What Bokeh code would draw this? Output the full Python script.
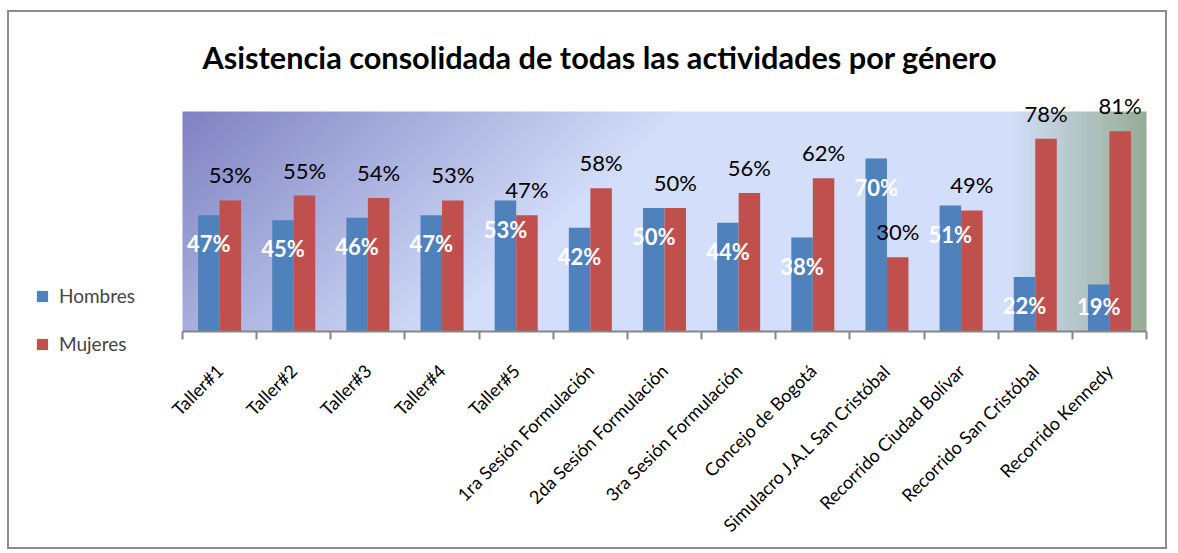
import numpy as np
from bokeh.plotting import figure
from bokeh.models import ColumnDataSource, LabelSet, Label, Legend, LegendItem, FixedTicker, Range1d
from bokeh.core.properties import value
from bokeh.embed import file_html
from bokeh.resources import INLINE

# ---- data ----
categories = ["Taller#1", "Taller#2", "Taller#3", "Taller#4", "Taller#5",
              "1ra Sesión Formulación", "2da Sesión Formulación", "3ra Sesión Formulación",
              "Concejo de Bogotá", "Simulacro J.A.L San Cristóbal", "Recorrido Ciudad Bolívar",
              "Recorrido San Cristóbal", "Recorrido Kennedy"]
hombres = [0.47, 0.45, 0.46, 0.47, 0.53, 0.42, 0.50, 0.44, 0.38, 0.70, 0.51, 0.22, 0.19]
mujeres = [0.53, 0.55, 0.54, 0.53, 0.47, 0.58, 0.50, 0.56, 0.62, 0.30, 0.49, 0.78, 0.81]
series_names = ["Hombres", "Mujeres"]
title_text = "Asistencia consolidada de todas las actividades por género"

BLUE = "#4F81BD"
RED = "#C0504D"
GREY = "#868686"
Y_MAX = 0.89
BAR_W = 0.29

# ---- layout (pixels inside the figure) ----
FIG_W, FIG_H = 1160, 539
AREA_L, AREA_R = 173, 1137      # plot-area left/right
AREA_T, AREA_B = 99, 319        # plot-area top/bottom
n = len(categories)
sx = (AREA_R - AREA_L) / n
sy = (AREA_B - AREA_T) / Y_MAX
x_range = Range1d(-AREA_L / sx, (FIG_W - AREA_L) / sx)
y_range = Range1d(-(FIG_H - AREA_B) / sy, AREA_B / sy)

idx = np.arange(n) + 0.5
h = np.array(hombres)
m = np.array(mujeres)

src = ColumnDataSource(dict(
    xh=idx - BAR_W / 2, xm=idx + BAR_W / 2, h=h, m=m,
    hy=np.maximum(h - 0.15, 0.068),
    hl=[f"{round(v * 100)}%" for v in h],
    ml=[f"{round(v * 100)}%" for v in m],
))

p = figure(width=FIG_W, height=FIG_H, output_backend="svg", toolbar_location=None,
           x_range=x_range, y_range=y_range, y_axis_location=None,
           min_border_left=0, min_border_right=0, min_border_top=0, min_border_bottom=0)
p.styles = {"border": "2px solid #8c8c8c", "margin": "10px 0 0 7px"}
p.xgrid.visible = False
p.ygrid.visible = False
p.outline_line_color = None
p.background_fill_color = "white"
p.border_fill_color = "white"

# ---- gradient plot-area background ----
W, H = 482, 111
u = (np.arange(W) + 0.5) / W
v = (np.arange(H) + 0.5) / H
U, V = np.meshgrid(u, v)
light = np.array([211, 222, 250], dtype=float)
purple = np.array([128, 130, 194], dtype=float)
green = np.array([150, 173, 148], dtype=float)
d = U + (1 - V) * 0.25
wp = np.clip(1 - d / 0.52, 0, 1)[..., None]
wg = np.clip((U - 0.86) / 0.14, 0, 1)[..., None]
col = light * (1 - wp) + purple * wp
col = col * (1 - wg) + green * wg
img = np.empty((H, W), dtype=np.uint32)
view = img.view(dtype=np.uint8).reshape((H, W, 4))
view[..., 0] = col[..., 0].astype(np.uint8)
view[..., 1] = col[..., 1].astype(np.uint8)
view[..., 2] = col[..., 2].astype(np.uint8)
view[..., 3] = 255
p.image_rgba(image=[img], x=0, y=0, dw=n, dh=Y_MAX)

# ---- bars ----
rh = p.vbar(x="xh", top="h", width=BAR_W, source=src, fill_color=BLUE, line_color=None)
rm = p.vbar(x="xm", top="m", width=BAR_W, source=src, fill_color=RED, line_color=None)

# ---- data labels ----
p.add_layout(LabelSet(x="xh", y="hy", text="hl", source=src, text_align="center",
                      text_baseline="alphabetic", text_color="white",
                      text_font=value("Lato"), text_font_style="bold", text_font_size="22px"))
p.add_layout(LabelSet(x="xm", y="m", text="ml", source=src, y_offset=17, text_align="center",
                      text_baseline="alphabetic", text_color="black",
                      text_font=value("Lato"), text_font_size="22px"))

# ---- axis ----
ax = p.xaxis[0]
ax.fixed_location = 0
ax.bounds = (0, n)
ax.ticker = FixedTicker(ticks=list(idx), minor_ticks=list(range(n + 1)))
ax.major_label_overrides = {float(x): c for x, c in zip(idx, categories)}
ax.major_tick_out = 0
ax.major_tick_in = 0
ax.minor_tick_out = 8
ax.minor_tick_in = 0
ax.axis_line_color = GREY
ax.axis_line_width = 2
ax.minor_tick_line_color = GREY
ax.minor_tick_line_width = 2
ax.major_label_orientation = np.pi / 4
ax.major_label_text_font = "Lato"
ax.major_label_text_font_size = "18px"
ax.major_label_text_color = "black"
ax.major_label_standoff = 28

# ---- legend ----
legend = Legend(items=[LegendItem(label=series_names[0], renderers=[rh]),
                       LegendItem(label=series_names[1], renderers=[rm])],
                location=(26, 196), orientation="vertical",
                padding=0, margin=0, spacing=25, border_line_color=None,
                background_fill_alpha=0, glyph_width=14, glyph_height=14,
                label_height=20, label_standoff=10,
                label_text_font="Lato", label_text_font_size="19px")
p.add_layout(legend, "center")

# ---- title ----
p.add_layout(Label(x=193, y=FIG_H - 45, x_units="screen", y_units="screen", text=title_text,
                   text_align="left", text_baseline="middle", text_color="black",
                   text_font="Lato", text_font_style="bold", text_font_size="30.7px"))

open("out.html", "w").write(file_html(p, INLINE))
